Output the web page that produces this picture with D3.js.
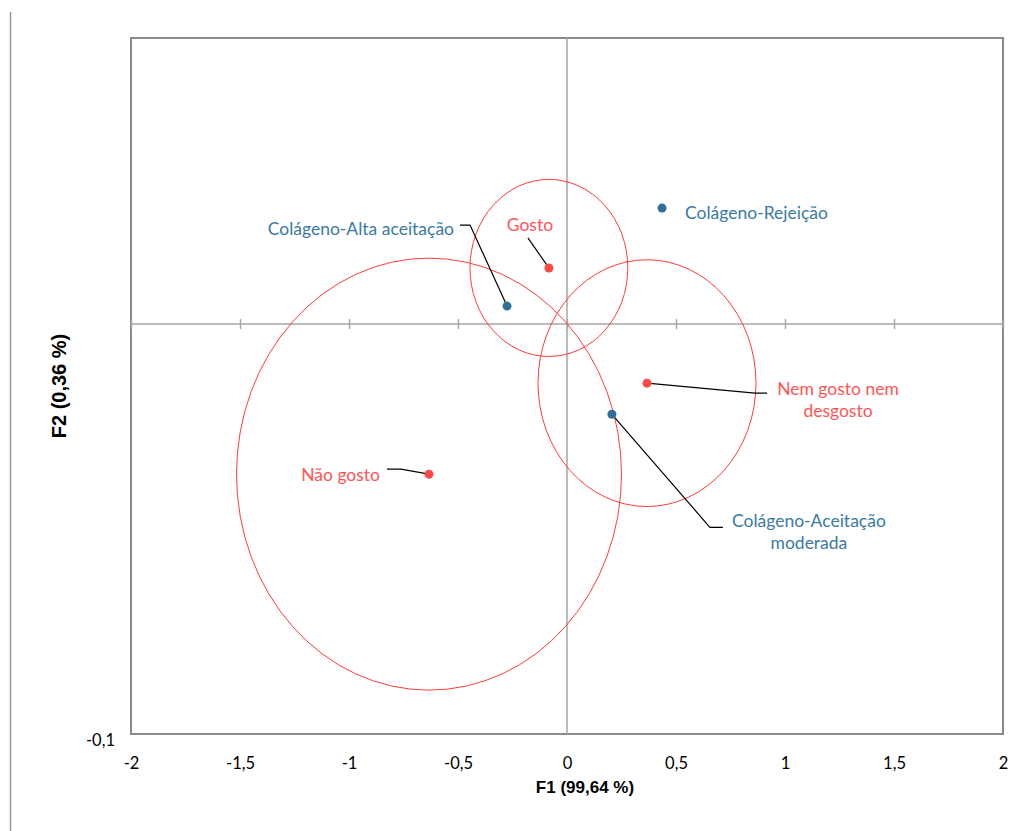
<!DOCTYPE html>
<html>
<head>
<meta charset="utf-8">
<script src="https://cdn.jsdelivr.net/npm/d3@7"></script>
<style>
  html, body { margin: 0; padding: 0; background: #fff; }
  svg { display: block; }
  .lbl { font-family: "Lato", "Open Sans", sans-serif; }
  .tick-txt { font-family: "Lato", "Open Sans", sans-serif; font-size: 16.5px; fill: #000; }
  .title { font-family: "Liberation Sans", Arial, sans-serif; font-weight: bold; fill: #000; }
</style>
</head>
<body>
<svg id="chart" width="1024" height="831"></svg>
<script>
// Correspondence analysis map: F1 x F2
const pointNames = ["Colágeno-Rejeição", "Colágeno-Alta aceitação", "Colágeno-Aceitação moderada",
                    "Gosto", "Nem gosto nem desgosto", "Não gosto"];
const pointGroup = ["col", "col", "col", "row", "row", "row"];
const f1Values = [0.436, -0.275, 0.206, -0.083, 0.367, -0.633];
const f2Values = [0.0283, 0.0044, -0.0220, 0.0137, -0.0144, -0.0366];

// Confidence ellipses around the hedonic categories (semi-axes in axis units)
const ellipseNames = ["Gosto", "Nem gosto nem desgosto", "Não gosto"];
const ellipseRx = [0.362, 0.500, 0.883];
const ellipseRy = [0.0216, 0.0301, 0.0527];

// Axis ticks
const xTickValues = [-2, -1.5, -1, -0.5, 0, 0.5, 1, 1.5, 2];
const yTickValues = [-0.1];
const xDomain = [-2, 2];
const yDomain = [-0.1, 0.0698];

const fmt = v => String(v).replace(".", ",");

const svg = d3.select("#chart");
const plot = { left: 131, top: 38, right: 1003, bottom: 734 };

const x = d3.scaleLinear().domain(xDomain).range([plot.left, plot.right]);
const y = d3.scaleLinear().domain(yDomain).range([plot.bottom, plot.top]);

const colors = { col: "#2f7099", row: "#ff4747" };
const textColors = { col: "#3a7aa3", row: "#ff5555" };

// Outer border fragment
svg.append("line").attr("x1", 10.5).attr("x2", 10.5).attr("y1", 12).attr("y2", 831)
  .attr("stroke", "#9a9a9a").attr("stroke-width", 1.5);

// Plot frame
svg.append("rect")
  .attr("x", plot.left).attr("y", plot.top)
  .attr("width", plot.right - plot.left).attr("height", plot.bottom - plot.top)
  .attr("fill", "none").attr("stroke", "#8a8a8a").attr("stroke-width", 2);

// Axes through the origin
const axisColor = "#a6a6a6";
svg.append("line").attr("x1", plot.left).attr("x2", plot.right)
  .attr("y1", y(0)).attr("y2", y(0)).attr("stroke", axisColor).attr("stroke-width", 1.5);
svg.append("line").attr("x1", x(0)).attr("x2", x(0))
  .attr("y1", plot.top).attr("y2", plot.bottom).attr("stroke", axisColor).attr("stroke-width", 1.5);

// Tick marks across the horizontal axis
const xAxisG = svg.append("g").attr("transform", `translate(0,${y(0) + 5})`)
  .call(d3.axisBottom(x).tickValues(xTickValues).tickSize(10).tickFormat(""));
xAxisG.select(".domain").remove();
xAxisG.selectAll(".tick line").attr("stroke", axisColor).attr("stroke-width", 1.5)
  .attr("transform", "translate(0,-10)");

// Tick labels along the bottom
const xLab = svg.append("g").attr("transform", `translate(0,${plot.bottom})`)
  .call(d3.axisBottom(x).tickValues(xTickValues).tickSize(0).tickPadding(0).tickFormat(fmt));
xLab.select(".domain").remove();
xLab.selectAll(".tick text").attr("class", "tick-txt").attr("dy", null)
  .attr("y", 31).attr("dominant-baseline", "middle");

const yLab = svg.append("g").attr("transform", `translate(${plot.left},0)`)
  .call(d3.axisLeft(y).tickValues(yTickValues).tickSize(0).tickPadding(0).tickFormat(fmt));
yLab.select(".domain").remove();
yLab.selectAll(".tick text").attr("class", "tick-txt").attr("dy", null)
  .attr("x", -16).attr("y", 7).attr("text-anchor", "end").attr("dominant-baseline", "middle");

// Axis titles
svg.append("text").attr("class", "title").attr("font-size", 17)
  .attr("x", 585).attr("y", 793)
  .attr("text-anchor", "middle").text("F1 (99,64  %)");
svg.append("text").attr("class", "title").attr("font-size", 20)
  .attr("transform", `translate(66,${(plot.top + plot.bottom) / 2}) rotate(-90)`)
  .attr("text-anchor", "middle").text("F2 (0,36  %)");

// Ellipses
const ellG = svg.append("g");
ellipseNames.forEach((name, i) => {
  const k = pointNames.indexOf(name);
  ellG.append("ellipse")
    .attr("cx", x(f1Values[k])).attr("cy", y(f2Values[k]))
    .attr("rx", x(ellipseRx[i]) - x(0)).attr("ry", y(0) - y(ellipseRy[i]))
    .attr("fill", "none").attr("stroke", "#ff3b3b").attr("stroke-width", 1);
});

// Label layout (pixel offsets from each point): text anchor, lines, leader polyline
const labelLayout = {
  "Colágeno-Rejeição":           { dx: 23,  dy: 6,   anchor: "start",  lines: ["Colágeno-Rejeição"], leader: null },
  "Colágeno-Alta aceitação":     { dx: -53, dy: -76, anchor: "end",    lines: ["Colágeno-Alta aceitação"], leader: [[-37, -81], [-47, -81]] },
  "Colágeno-Aceitação moderada": { dx: 197, dy: 108, anchor: "middle", lines: ["Colágeno-Aceitação", "moderada"], leader: [[98, 113], [111, 113]] },
  "Gosto":                       { dx: -19, dy: -41, anchor: "middle", lines: ["Gosto"], leader: [[-21, -30]] },
  "Nem gosto nem desgosto":      { dx: 191, dy: 7,   anchor: "middle", lines: ["Nem gosto nem", "desgosto"], leader: [[108, 10], [120, 10]] },
  "Não gosto":                   { dx: -49, dy: 2,   anchor: "end",    lines: ["Não gosto"], leader: [[-28, -5], [-42, -5]] }
};

const lblG = svg.append("g");
pointNames.forEach((name, i) => {
  const px = x(f1Values[i]), py = y(f2Values[i]);
  const L = labelLayout[name];
  if (L.leader) {
    const pts = [[px, py]].concat(L.leader.map(p => [px + p[0], py + p[1]]));
    lblG.append("path").attr("d", d3.line()(pts))
      .attr("fill", "none").attr("stroke", "#000").attr("stroke-width", 1.2);
  }
  const t = lblG.append("text").attr("class", "lbl")
    .attr("text-anchor", L.anchor).attr("font-size", 17.5)
    .attr("fill", textColors[pointGroup[i]]);
  L.lines.forEach((ln, j) => {
    t.append("tspan").attr("x", px + L.dx).attr("y", py + L.dy + j * 22)
      .attr("dominant-baseline", "middle").text(ln);
  });
});

// Points
svg.append("g").selectAll("circle").data(pointNames).join("circle")
  .attr("cx", (d, i) => x(f1Values[i])).attr("cy", (d, i) => y(f2Values[i]))
  .attr("r", 4.5).attr("fill", (d, i) => colors[pointGroup[i]]);
</script>
</body>
</html>
